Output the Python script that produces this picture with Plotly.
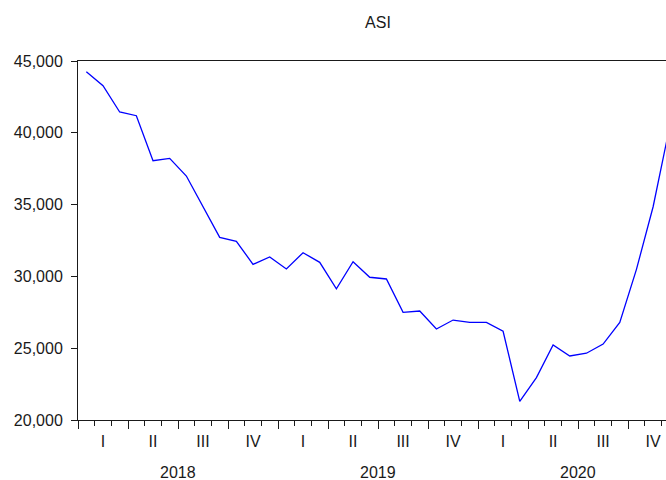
import plotly.graph_objects as go

# ---- data (monthly ASI, Jan 2018 - Dec 2020) ----
months = [f"{y}-{m:02d}" for y in (2018, 2019, 2020) for m in range(1, 13)]
asi = [44250, 43280, 41450, 41190, 38060, 38220, 36990, 34850, 32720, 32440, 30840, 31350,
       30520, 31650, 30980, 29140, 31020, 29940, 29820, 27500, 27590, 26340, 26960, 26800,
       26800, 26180, 21300, 22950, 25220, 24460, 24650, 25290, 26800, 30490, 34850, 40470]
quarter_labels = ["I", "II", "III", "IV"]
years = ["2018", "2019", "2020"]
y_ticks = [20000, 25000, 30000, 35000, 40000, 45000]

# month index positions (month i spans [i, i+1], point at centre)
xpos = [i + 0.5 for i in range(len(months))]
n_months = len(months)
q_centres = [3 * q + 1.5 for q in range(n_months // 3)]
q_text = [quarter_labels[q % 4] for q in range(n_months // 3)]
q_bounds = list(range(0, n_months + 1, 3))

FONT = "Liberation Sans, Arial, sans-serif"
AX = "#1a1a1a"

fig = go.Figure()
fig.add_trace(go.Scatter(x=xpos, y=asi, mode="lines",
                         line=dict(color="#0000ff", width=1.3),
                         showlegend=False, hoverinfo="x+y"))
# invisible trace so the label axis is drawn
fig.add_trace(go.Scatter(x=xpos, y=asi, mode="lines", xaxis="x2",
                         line=dict(width=0), opacity=0,
                         showlegend=False, hoverinfo="skip"))

left, top, bottom = 78, 61, 60
W, H = 666, 480
px_per_month = 16.67
x_max = (W - left) / px_per_month

fig.update_layout(
    width=W, height=H,
    margin=dict(l=left, r=0, t=top, b=bottom),
    paper_bgcolor="white", plot_bgcolor="white",
    font=dict(family=FONT, size=16, color=AX),
    title=dict(text="ASI", x=(left + 300) / W, xanchor="center",
               y=1 - 22 / H, yanchor="middle",
               font=dict(family=FONT, size=16, color=AX)),
    xaxis=dict(range=[0, x_max], tickvals=q_bounds, ticks="outside", ticklen=8,
               tickcolor=AX, tickwidth=1, showticklabels=False,
               minor=dict(tick0=0, dtick=1, ticks="outside", ticklen=5,
                          tickcolor=AX, tickwidth=1, showgrid=False),
               showline=True, linecolor=AX, linewidth=1, mirror=True,
               showgrid=False, zeroline=False, fixedrange=True, automargin=False),
    xaxis2=dict(overlaying="x", matches="x", anchor="y", side="bottom",
                tickvals=q_centres, ticktext=q_text, ticks="",
                ticklabelstandoff=10, automargin=False,
                showline=False, showgrid=False, zeroline=False,
                tickfont=dict(family=FONT, size=16, color=AX)),
    yaxis=dict(range=[y_ticks[0], y_ticks[-1]], tickvals=y_ticks, tickformat=",",
               ticks="outside", ticklen=6, tickcolor=AX, tickwidth=1,
               ticklabelstandoff=5, automargin=False,
               showline=True, linecolor=AX, linewidth=1,
               showgrid=False, zeroline=False,
               tickfont=dict(family=FONT, size=16, color=AX)),
)

for k, yr in enumerate(years):
    fig.add_annotation(x=12 * k + 6, xref="x", y=-(472 - 420) / 359, yref="paper",
                       text=yr, showarrow=False, yanchor="middle", xanchor="center",
                       font=dict(family=FONT, size=16, color=AX))

fig.write_html("out.html", config={"displayModeBar": False},
               post_script="document.body.style.margin='0';document.body.style.overflow='hidden';")
